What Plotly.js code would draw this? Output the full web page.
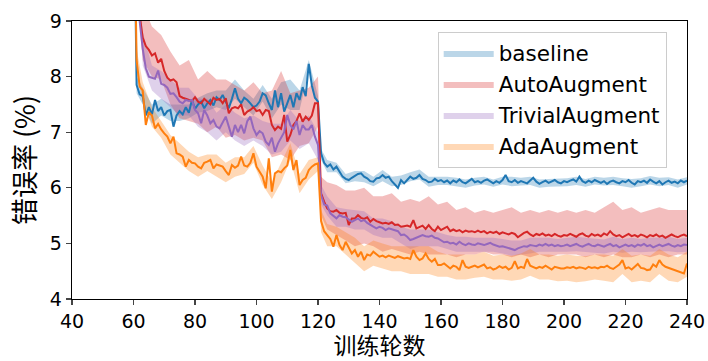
<!DOCTYPE html>
<html>
<head>
<meta charset="utf-8">
<script src="https://cdn.plot.ly/plotly-3.0.1.min.js"></script>
<style>html,body{margin:0;padding:0;background:#fff}#chart{width:708px;height:361px}</style>
</head>
<body>
<div id="chart"></div>
<script>
// ---------- data ----------
const seriesNames = ["baseline", "AutoAugment", "TrivialAugment", "AdaAugment"];
const xTickVals = [40, 60, 80, 100, 120, 140, 160, 180, 200, 220, 240];
const yTickVals = [4, 5, 6, 7, 8, 9];
const xTitle = "训练轮数";
const yTitle = "错误率 (%)";

const firstEpoch = 60;

const baseline = [
12.0,7.85,7.68,7.65,7.30,7.45,7.32,7.58,7.38,7.45,
7.30,7.38,7.40,7.10,7.30,7.38,7.32,7.45,7.35,7.58,
7.42,7.50,7.55,7.43,7.52,7.58,7.48,7.63,7.58,7.67,
7.55,7.43,7.60,7.79,7.60,7.52,7.62,7.58,7.52,7.45,
7.48,7.55,7.70,7.66,7.52,7.40,7.75,7.45,7.70,7.37,
7.52,7.67,7.45,7.70,7.58,7.81,7.65,8.23,7.84,7.62,
7.55,6.62,6.45,6.38,6.42,6.33,6.38,6.28,6.20,6.16,
6.14,6.18,6.22,6.25,6.26,6.20,6.17,6.12,6.11,6.17,
6.18,6.23,6.18,6.20,6.12,6.05,6.00,6.14,6.08,6.14,
6.20,6.16,6.18,6.23,6.16,6.14,6.10,6.11,6.16,6.12,
6.14,6.10,6.13,6.08,6.13,6.10,6.15,6.10,6.08,6.12,
6.16,6.10,6.12,6.09,6.13,6.15,6.11,6.08,6.12,6.09,
6.14,6.23,6.12,6.10,6.14,6.09,6.12,6.10,6.08,6.13,
6.18,6.11,6.07,6.10,6.13,6.09,6.12,6.14,6.10,6.08,
6.12,6.10,6.13,6.15,6.11,6.20,6.12,6.09,6.13,6.10,
6.14,6.11,6.09,6.12,6.07,6.11,6.13,6.10,6.08,6.12,
6.10,6.14,6.09,6.06,6.12,6.10,6.13,6.09,6.15,6.11,
6.08,6.12,6.06,6.10,6.13,6.09,6.11,6.08,6.13,6.10,
6.13];

const autoAugment = [
12.0,10.0,9.10,8.70,8.55,8.48,8.38,8.42,8.25,8.32,
8.10,7.98,7.93,7.95,7.90,7.65,7.62,7.60,7.58,7.56,
7.63,7.55,7.52,7.60,7.55,7.50,7.62,7.58,7.60,7.52,
7.61,7.34,7.43,7.45,7.43,7.50,7.31,7.37,7.40,7.45,
7.38,7.40,7.31,7.40,7.38,7.13,7.04,7.10,7.06,7.31,
6.83,6.95,7.13,7.20,7.34,7.19,7.28,7.22,7.30,7.52,
7.52,5.90,5.75,5.63,5.58,5.57,5.60,5.55,5.54,5.55,
5.33,5.45,5.45,5.51,5.46,5.44,5.47,5.39,5.44,5.40,
5.38,5.36,5.37,5.35,5.38,5.33,5.34,5.30,5.31,5.32,
5.30,5.42,5.27,5.30,5.32,5.26,5.33,5.26,5.22,5.30,
5.24,5.27,5.30,5.22,5.25,5.22,5.24,5.20,5.23,5.21,
5.22,5.20,5.23,5.20,5.22,5.18,5.21,5.19,5.21,5.17,
5.20,5.18,5.16,5.19,5.17,5.11,5.15,5.19,5.21,5.16,
5.13,5.17,5.15,5.18,5.14,5.16,5.13,5.17,5.14,5.12,
5.15,5.14,5.17,5.15,5.12,5.16,5.18,5.14,5.12,5.17,
5.14,5.16,5.13,5.18,5.15,5.22,5.16,5.13,5.15,5.11,
5.14,5.17,5.13,5.15,5.12,5.16,5.14,5.11,5.15,5.13,
5.16,5.12,5.14,5.10,5.13,5.16,5.13,5.11,5.14,5.16,
5.13];

const trivialAugment = [
12.0,10.0,9.00,8.50,8.15,8.00,7.98,7.96,8.11,7.87,
7.85,7.80,7.69,7.70,7.63,7.55,7.52,7.58,7.56,7.58,
7.40,7.34,7.16,7.40,7.30,7.16,7.22,7.10,7.07,7.19,
7.28,7.10,6.92,7.13,7.00,7.13,6.98,7.20,7.28,7.07,
6.95,7.02,6.98,6.83,6.77,6.90,6.65,6.80,6.90,7.00,
7.31,7.13,7.05,7.20,6.95,7.13,7.05,7.05,7.13,6.92,
6.77,5.87,5.70,5.68,5.54,5.50,5.45,5.51,5.48,5.47,
5.43,5.39,5.42,5.45,5.40,5.42,5.37,5.33,5.30,5.27,
5.30,5.28,5.24,5.27,5.25,5.24,5.22,5.15,5.16,5.12,
5.06,5.08,5.10,5.12,5.15,5.13,5.12,5.14,5.10,5.09,
5.06,5.02,5.03,5.00,5.01,4.98,5.03,4.99,4.97,5.00,
4.98,4.97,5.00,4.99,4.97,4.99,5.01,4.98,4.96,4.94,
4.95,4.93,4.92,4.90,4.88,4.91,4.93,4.95,4.94,4.97,
4.96,4.95,4.98,4.96,4.99,4.96,4.98,4.95,4.97,4.95,
4.96,4.98,4.95,4.97,4.99,4.96,4.94,4.97,4.99,4.96,
4.95,4.98,4.96,4.94,4.97,4.99,4.95,4.97,4.93,4.96,
4.98,4.95,4.97,4.94,4.98,4.96,4.99,4.95,4.97,4.93,
4.96,4.98,4.95,4.97,4.99,4.96,4.94,4.97,4.95,4.98,
4.97];

const adaAugment = [
12.0,8.30,7.82,7.75,7.13,7.36,7.30,7.07,7.15,7.05,
6.98,6.92,6.80,6.92,6.62,6.60,6.56,6.38,6.50,6.45,
6.44,6.38,6.35,6.45,6.47,6.50,6.35,6.42,6.40,6.38,
6.30,6.23,6.41,6.36,6.40,6.56,6.40,6.38,6.45,6.62,
6.38,6.29,6.20,5.99,6.53,5.93,6.26,6.30,6.28,6.35,
6.40,6.68,6.32,6.50,6.05,6.14,6.18,6.32,6.38,6.42,
6.44,5.40,5.22,5.15,5.08,4.94,5.15,4.97,4.88,5.03,
4.91,4.82,4.88,4.76,4.85,4.70,4.80,4.78,4.85,4.80,
4.76,4.78,4.75,4.78,4.76,4.74,4.77,4.75,4.73,4.74,
4.72,4.88,4.76,4.70,4.73,4.82,4.72,4.67,4.72,4.61,
4.61,4.64,4.60,4.55,4.60,4.58,4.52,4.70,4.58,4.56,
4.58,4.60,4.57,4.59,4.62,4.55,4.57,4.53,4.55,4.59,
4.56,4.58,4.53,4.56,4.68,4.55,4.58,4.56,4.72,4.60,
4.57,4.55,4.58,4.56,4.60,4.57,4.53,4.58,4.56,4.55,
4.55,4.57,4.56,4.58,4.55,4.57,4.56,4.54,4.58,4.56,
4.57,4.55,4.58,4.57,4.60,4.56,4.54,4.58,4.62,4.70,
4.55,4.57,4.53,4.58,4.63,4.56,4.55,4.52,4.53,4.62,
4.58,4.70,4.62,4.58,4.56,4.53,4.52,4.50,4.47,4.46,
4.64];

// shaded band samples (epochs and bounds)
const bandEpochs = [60,61,63,66,69,72,75,78,81,84,87,90,93,96,99,102,105,108,111,114,117,120,
121,123,126,129,132,135,138,141,144,147,150,153,156,159,162,165,168,171,174,177,180,
183,186,189,192,195,198,201,204,207,210,213,216,219,222,225,228,231,234,237,240];

const baselineUpper = [12.5,8.0,7.8,7.5,7.6,7.5,7.5,7.5,7.62,7.7,7.75,7.75,7.95,7.75,7.6,7.85,7.6,7.9,7.95,7.75,8.3,7.65,
6.7,6.5,6.45,6.25,6.3,6.3,6.2,6.32,6.2,6.22,6.28,6.33,6.2,6.2,6.2,6.18,6.15,6.18,6.2,6.15,6.2,
6.2,6.18,6.2,6.15,6.16,6.17,6.17,6.2,6.16,6.2,6.18,6.2,6.17,6.16,6.17,6.21,6.18,6.19,6.15,6.19];
const baselineLower = [11.5,7.7,7.5,7.15,7.3,7.2,7.2,7.25,7.35,7.38,7.45,7.4,7.6,7.45,7.3,7.55,7.25,7.5,7.4,7.4,8.1,7.45,
6.5,6.28,6.28,6.08,6.12,6.1,6.03,6.12,6.03,6.05,6.12,6.15,6.02,6.05,6.05,6.03,6.0,6.04,6.06,6.02,6.06,
6.03,6.04,6.05,6.0,6.02,6.03,6.03,6.05,6.02,6.06,6.04,6.05,6.03,6.0,6.03,6.06,6.03,6.05,6.0,6.06];

const autoUpper = [13,10.5,9.3,8.9,8.75,8.45,8.2,8.3,7.95,8.1,7.95,7.95,7.85,7.75,7.9,7.7,7.75,8.1,7.7,7.75,7.8,8.0,
6.2,6.1,6.05,5.95,5.95,6.0,5.85,5.85,5.9,5.75,5.8,5.75,5.85,5.7,5.75,5.6,5.65,5.55,5.6,5.55,5.6,
5.65,5.55,5.6,5.55,5.6,5.55,5.6,5.55,5.6,5.55,5.65,5.75,5.6,5.65,5.55,5.6,5.65,5.6,5.6,5.6];
const autoLower = [11,9.5,8.3,8.0,7.95,7.5,7.25,7.2,7.15,7.0,7.1,6.9,6.95,6.85,6.9,6.85,6.55,6.6,6.5,6.75,6.8,7.1,
5.5,5.25,5.15,5.05,4.95,5.0,4.95,4.85,4.9,4.85,4.8,4.85,4.8,4.8,4.8,4.75,4.8,4.8,4.85,4.8,4.8,
4.75,4.8,4.75,4.8,4.75,4.8,4.8,4.8,4.75,4.8,4.75,4.8,4.75,4.75,4.8,4.75,4.8,4.75,4.8,4.8];

const trivialUpper = [12.5,10.3,8.8,8.2,8.1,7.95,7.8,7.8,7.6,7.6,7.35,7.5,7.35,7.25,7.3,7.2,7.15,7.15,7.4,7.2,7.3,7.0,
6.05,5.85,5.65,5.62,5.6,5.58,5.45,5.45,5.4,5.3,5.25,5.25,5.25,5.2,5.15,5.12,5.12,5.1,5.1,5.1,5.08,
5.05,5.05,5.1,5.1,5.1,5.08,5.1,5.12,5.1,5.08,5.07,5.12,5.08,5.1,5.08,5.1,5.1,5.12,5.08,5.1];
const trivialLower = [11.5,9.7,8.2,7.75,7.6,7.45,7.3,7.3,7.1,7.0,6.85,7.0,6.85,6.75,6.85,6.75,6.6,6.65,6.85,6.7,6.8,6.5,
5.7,5.5,5.3,5.3,5.25,5.25,5.15,5.1,5.1,5.0,4.9,4.95,4.95,4.95,4.9,4.85,4.85,4.85,4.85,4.85,4.82,
4.78,4.8,4.82,4.85,4.85,4.85,4.85,4.86,4.84,4.83,4.82,4.85,4.83,4.85,4.84,4.85,4.86,4.86,4.84,4.85];

const adaUpper = [12.5,8.5,7.9,7.45,7.2,6.95,6.8,6.65,6.55,6.6,6.6,6.45,6.55,6.55,6.75,6.4,6.1,6.45,6.8,6.25,6.5,6.55,
5.6,5.35,5.3,5.2,5.1,4.95,5.05,5.0,4.95,4.95,4.95,4.95,4.95,4.85,4.8,4.8,4.8,4.8,4.85,4.78,4.8,
4.78,4.82,4.9,4.8,4.8,4.78,4.8,4.78,4.77,4.8,4.8,4.78,4.9,4.78,4.8,4.78,4.9,4.8,4.75,4.85];
const adaLower = [11.5,8.1,7.55,7.1,6.9,6.6,6.45,6.3,6.2,6.3,6.2,6.1,6.2,6.25,6.45,6.05,5.8,6.1,6.5,5.9,6.15,6.3,
5.2,4.95,4.95,4.8,4.65,4.5,4.6,4.55,4.5,4.5,4.45,4.45,4.45,4.4,4.4,4.35,4.35,4.38,4.4,4.35,4.35,
4.33,4.35,4.42,4.35,4.35,4.32,4.33,4.3,4.32,4.35,4.33,4.3,4.45,4.3,4.33,4.3,4.45,4.33,4.3,4.4];

// ---------- drawing ----------
const lineColors = ["#1f77b4", "#d62728", "#9467bd", "#ff7f0e"];
const bandColors = ["rgba(31,119,180,0.3)", "rgba(214,39,40,0.3)", "rgba(148,103,189,0.3)", "rgba(255,127,14,0.3)"];
const means = [baseline, autoAugment, trivialAugment, adaAugment];
const uppers = [baselineUpper, autoUpper, trivialUpper, adaUpper];
const lowers = [baselineLower, autoLower, trivialLower, adaLower];

const epochs = baseline.map((_, i) => firstEpoch + i);
const traces = [];
for (let s = 0; s < 4; s++) {
  traces.push({
    x: bandEpochs.concat(bandEpochs.slice().reverse()),
    y: uppers[s].concat(lowers[s].slice().reverse()),
    type: "scatter", mode: "lines", fill: "toself",
    fillcolor: bandColors[s], line: {width: 0, color: bandColors[s]},
    name: seriesNames[s], hoverinfo: "skip", showlegend: true
  });
}
for (let s = 0; s < 4; s++) {
  traces.push({
    x: epochs, y: means[s], type: "scatter", mode: "lines",
    line: {color: lineColors[s], width: 2},
    name: seriesNames[s], showlegend: false
  });
}

const fontMain = "DejaVu Sans, Noto Sans CJK SC, sans-serif";
const fontTitle = "Noto Sans CJK SC, DejaVu Sans, sans-serif";
const layout = {
  width: 708, height: 361,
  margin: {l: 72, r: 21, t: 21, b: 62},
  paper_bgcolor: "#fff", plot_bgcolor: "#fff",
  font: {family: fontMain, color: "#000", size: 19},
  showlegend: true,
  legend: {
    x: 0.967, y: 0.962, xanchor: "right", yanchor: "top",
    bgcolor: "rgba(255,255,255,0.8)", bordercolor: "#cccccc", borderwidth: 1,
    font: {size: 21.5, family: fontMain}, itemwidth: 50
  },
  xaxis: {
    range: [40, 240], tickvals: xTickVals, ticks: "outside", ticklen: 5, tickwidth: 1.3,
    showline: true, linecolor: "#000", linewidth: 1.3, mirror: true, showgrid: false, zeroline: false,
    tickfont: {size: 19}, title: {text: xTitle, font: {size: 23, family: fontTitle}, standoff: 10}
  },
  yaxis: {
    range: [4, 9], tickvals: yTickVals, ticks: "outside", ticklen: 5, tickwidth: 1.3,
    showline: true, linecolor: "#000", linewidth: 1.3, mirror: true, showgrid: false, zeroline: false,
    tickfont: {size: 19}, title: {text: yTitle, font: {size: 27, family: fontTitle}, standoff: 6}
  }
};
Plotly.newPlot("chart", traces, layout, {staticPlot: true, displayModeBar: false});
</script>
</body>
</html>
